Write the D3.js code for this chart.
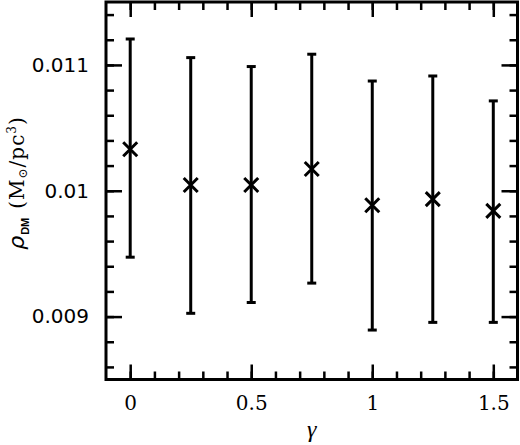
<!DOCTYPE html>
<html>
<head>
<meta charset="utf-8">
<script src="https://cdn.jsdelivr.net/npm/d3@7"></script>
<style>
  body { margin: 0; background: #fff; }
</style>
</head>
<body>
<div id="chart"></div>
<script>
// data
const gamma = [0, 0.25, 0.5, 0.75, 1, 1.25, 1.5]
const rho   = [0.01033, 0.010046, 0.010046, 0.010173, 0.009885, 0.009933, 0.00984]
const rhoHi = [0.011206, 0.011058, 0.010987, 0.011085, 0.010872, 0.010912, 0.010714]
const rhoLo = [0.009472, 0.009026, 0.009112, 0.009266, 0.008893, 0.008954, 0.008954]

const xTicks = [0, 0.5, 1, 1.5]
const xTickLabels = ['0', '0.5', '1', '1.5']
const yTicks = [0.009, 0.01, 0.011]
const yTickLabels = ['0.009', '0.01', '0.011']

const width = 520
const height = 445
const padLeft = 106, padRight = 517.5, padTop = 2, padBottom = 379.5

const points = gamma.map((g, i) => ({ g: g, v: rho[i], hi: rhoHi[i], lo: rhoLo[i] }))

let xScale = d3.scaleLinear().domain([-0.1, 1.6]).range([padLeft, padRight])
let yScale = d3.scaleLinear().domain([0.0085, 0.0115]).range([padBottom, padTop])

const xMinor = d3.range(-0.1, 1.61, 0.1).map(d => +d.toFixed(2)).filter(d => d > -0.1 && d < 1.6)
const yMinor = d3.range(0.0086, 0.01149, 0.0002).map(d => +d.toFixed(5))

const svg = d3.select('#chart').append('svg')
    .attr('width', width)
    .attr('height', height)
    .style('background', '#fff')

function styleAxis(g) {
    g.select('.domain').remove()
    g.selectAll('line').attr('stroke', '#000').attr('stroke-width', 2.5)
}

// minor ticks, all four sides
svg.append('g').attr('transform', 'translate(0,' + padBottom + ')')
    .call(d3.axisBottom(xScale).tickValues(xMinor).tickSize(-8).tickFormat(''))
    .call(styleAxis)
svg.append('g').attr('transform', 'translate(0,' + padTop + ')')
    .call(d3.axisTop(xScale).tickValues(xMinor).tickSize(-8).tickFormat(''))
    .call(styleAxis)
svg.append('g').attr('transform', 'translate(' + padLeft + ',0)')
    .call(d3.axisLeft(yScale).tickValues(yMinor).tickSize(-8).tickFormat(''))
    .call(styleAxis)
svg.append('g').attr('transform', 'translate(' + padRight + ',0)')
    .call(d3.axisRight(yScale).tickValues(yMinor).tickSize(-8).tickFormat(''))
    .call(styleAxis)

// major ticks
const xAxis = svg.append('g').attr('transform', 'translate(0,' + padBottom + ')')
    .call(d3.axisBottom(xScale).tickValues(xTicks).tickSize(-15).tickPadding(16)
        .tickFormat((d, i) => xTickLabels[i]))
    .call(styleAxis)
xAxis.selectAll('text')
    .attr('fill', '#000')
    .style('font-family', '"DejaVu Serif", serif')
    .style('font-size', '20px')

svg.append('g').attr('transform', 'translate(0,' + padTop + ')')
    .call(d3.axisTop(xScale).tickValues(xTicks).tickSize(-15).tickFormat(''))
    .call(styleAxis)

const yAxis = svg.append('g').attr('transform', 'translate(' + padLeft + ',0)')
    .call(d3.axisLeft(yScale).tickValues(yTicks).tickSize(-16).tickPadding(17)
        .tickFormat((d, i) => yTickLabels[i]))
    .call(styleAxis)
yAxis.selectAll('text')
    .attr('fill', '#000')
    .style('font-family', '"DejaVu Sans", sans-serif')
    .style('font-size', '20px')

svg.append('g').attr('transform', 'translate(' + padRight + ',0)')
    .call(d3.axisRight(yScale).tickValues(yTicks).tickSize(-16).tickFormat(''))
    .call(styleAxis)

// frame
svg.append('rect')
    .attr('x', padLeft).attr('y', padTop)
    .attr('width', padRight - padLeft).attr('height', padBottom - padTop)
    .attr('fill', 'none').attr('stroke', '#000').attr('stroke-width', 3)

// error bars
const bars = svg.append('g').attr('stroke', '#000').attr('stroke-width', 3)
bars.selectAll('line.bar').data(points).enter().append('line')
    .attr('class', 'bar')
    .attr('x1', d => xScale(d.g)).attr('x2', d => xScale(d.g))
    .attr('y1', d => yScale(d.hi)).attr('y2', d => yScale(d.lo))
bars.selectAll('line.capHi').data(points).enter().append('line')
    .attr('class', 'capHi')
    .attr('x1', d => xScale(d.g) - 4.5).attr('x2', d => xScale(d.g) + 4.5)
    .attr('y1', d => yScale(d.hi)).attr('y2', d => yScale(d.hi))
bars.selectAll('line.capLo').data(points).enter().append('line')
    .attr('class', 'capLo')
    .attr('x1', d => xScale(d.g) - 4.5).attr('x2', d => xScale(d.g) + 4.5)
    .attr('y1', d => yScale(d.lo)).attr('y2', d => yScale(d.lo))

// cross markers
svg.append('g').selectAll('path').data(points).enter().append('path')
    .attr('d', d => {
        let cx = xScale(d.g), cy = yScale(d.v), s = 7
        return 'M' + (cx - s) + ',' + (cy - s) + 'L' + (cx + s) + ',' + (cy + s) +
               'M' + (cx - s) + ',' + (cy + s) + 'L' + (cx + s) + ',' + (cy - s)
    })
    .attr('stroke', '#000').attr('stroke-width', 3).attr('fill', 'none')

// axis titles
svg.append('text')
    .attr('x', (padLeft + padRight) / 2).attr('y', 437)
    .attr('text-anchor', 'middle')
    .style('font-family', '"Liberation Serif", serif')
    .style('font-style', 'italic')
    .style('font-size', '24px')
    .text('γ')

const yl = svg.append('text')
    .attr('transform', 'translate(24,183) rotate(-90)')
    .attr('text-anchor', 'middle')
    .style('font-family', '"DejaVu Serif", serif')
    .style('font-size', '20px')
    .style('letter-spacing', '1px')
    .attr('fill', '#000')
yl.append('tspan').style('font-family', '"DejaVu Sans", sans-serif').style('font-style', 'italic').style('font-size', '22px').text('ρ')
yl.append('tspan').attr('dy', 5).style('font-family', '"Liberation Sans", sans-serif').style('font-weight', 'bold').style('font-size', '11px').style('letter-spacing', '0px').text('DM')
yl.append('tspan').attr('dy', -5).attr('dx', 9).text('(M')
yl.append('tspan').attr('dy', 3).style('font-size', '12px').text('⊙')
yl.append('tspan').attr('dy', -3).text('/pc')
yl.append('tspan').attr('dy', -8).style('font-size', '12px').text('3')
yl.append('tspan').attr('dy', 8).text(')')
</script>
</body>
</html>
